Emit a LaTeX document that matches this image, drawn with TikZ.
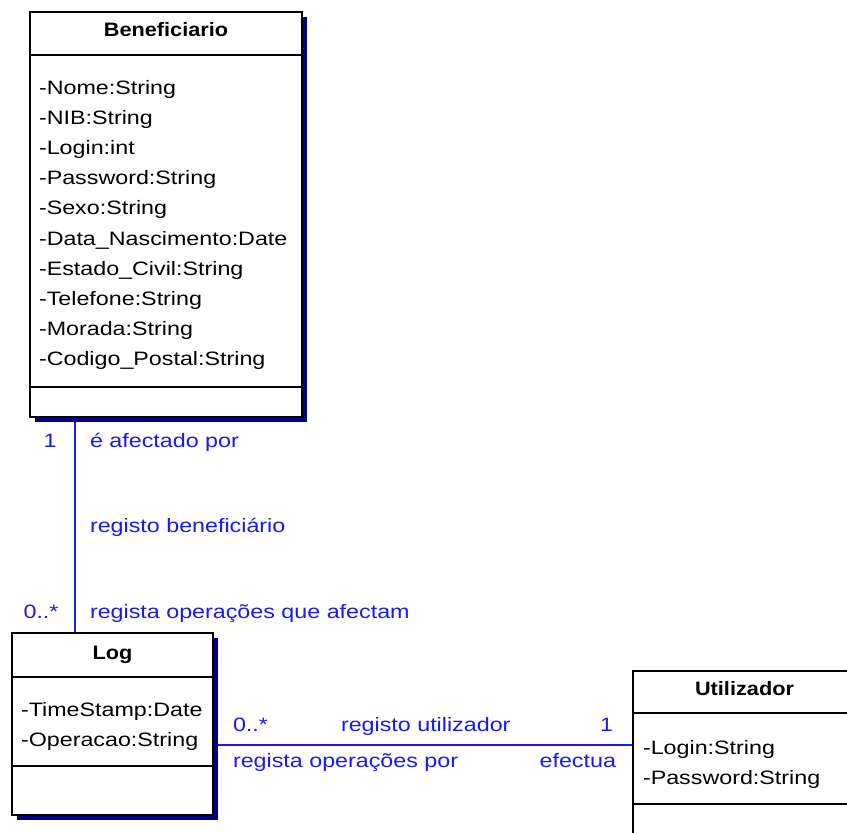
\documentclass[tikz,border=0pt]{standalone}
\usepackage{fontspec}
\setmainfont{Liberation Sans}[FakeStretch=1.2]
\newfontfamily\titlefont{Liberation Sans}[FakeStretch=1.12]
\usetikzlibrary{shadows}
\definecolor{umlblue}{RGB}{25,25,245}
\definecolor{shadownavy}{RGB}{0,0,135}
\begin{document}
\begin{tikzpicture}[x=1pt,y=-1pt,
  every node/.style={inner sep=0pt,outer sep=0pt,font=\fontsize{19.4}{22}\selectfont},
  classbox/.style={draw=black,line width=2pt,fill=white,anchor=north west,
     drop shadow={shadow xshift=4.5pt,shadow yshift=-4.5pt,fill=shadownavy,opacity=1}},
  divider/.style={draw=black,line width=2pt},
  attr/.style={anchor=base west},
  title/.style={anchor=base,font=\fontsize{19.4}{22}\titlefont\bfseries},
  assoc/.style={draw=umlblue,line width=2pt},
  lbl/.style={text=umlblue,anchor=base west},
  lble/.style={text=umlblue,anchor=base east}]
\useasboundingbox (0,0) rectangle (847,833);
\clip (0,0) rectangle (847,833);

% connectors first
\coordinate (benlink) at (75,417);
\coordinate (loglink) at (75,633);
\coordinate (logright) at (217,744.5);
\coordinate (utilleft) at (633,744.5);
\draw[assoc] (benlink) -- (loglink);
\draw[assoc] (logright) -- (utilleft);

% Beneficiario
\node[classbox,minimum width=272,minimum height=405] (ben) at (30,12) {};
\draw[divider] (30,55) -- (302,55);
\draw[divider] (30,387) -- (302,387);
\node[title] (bent) at (166,36) {Beneficiario};
\node[attr] (b1) at (39,94.5) {-Nome:String};
\node[attr] (b2) at (39,124.6) {-NIB:String};
\node[attr] (b3) at (39,154.7) {-Login:int};
\node[attr] (b4) at (39,184.8) {-Password:String};
\node[attr] (b5) at (39,214.9) {-Sexo:String};
\node[attr] (b6) at (39,245.0) {-Data\_Nascimento:Date};
\node[attr] (b7) at (39,275.1) {-Estado\_Civil:String};
\node[attr] (b8) at (39,305.2) {-Telefone:String};
\node[attr] (b9) at (39,335.3) {-Morada:String};
\node[attr] (b10) at (39,365.4) {-Codigo\_Postal:String};

% Log
\node[classbox,minimum width=201,minimum height=182] (log) at (12,633) {};
\draw[divider] (12,677) -- (213,677);
\draw[divider] (12,766) -- (213,766);
\node[title] (logt) at (112.5,659.5) {Log};
\node[attr] (l1) at (21,716.7) {-TimeStamp:Date};
\node[attr] (l2) at (21,746.7) {-Operacao:String};

% Utilizador
\node[classbox,minimum width=223,minimum height=200] (util) at (633,671) {};
\draw[divider] (633,713) -- (856,713);
\draw[divider] (633,804) -- (856,804);
\node[title] (utilt) at (744.5,695) {Utilizador};
\node[attr] (u1) at (643,754.3) {-Login:String};
\node[attr] (u2) at (643,784.3) {-Password:String};

% association labels
\node[lble] (m1) at (56.5,447.3) {1};
\node[lbl] (r1) at (90,447.3) {é afectado por};
\node[lbl] (n1) at (90,532.5) {registo beneficiário};
\node[lble] (m2) at (58.5,618.7) {0..*};
\node[lbl] (r2) at (90,618.7) {regista operações que afectam};

\node[lbl] (m3) at (233,731.7) {0..*};
\node[lbl] (n2) at (341,731.7) {registo utilizador};
\node[lble] (m4) at (613,731.7) {1};
\node[lbl] (r3) at (233,767.5) {regista operações por};
\node[lble] (r4) at (616,767.5) {efectua};
\end{tikzpicture}
\end{document}
